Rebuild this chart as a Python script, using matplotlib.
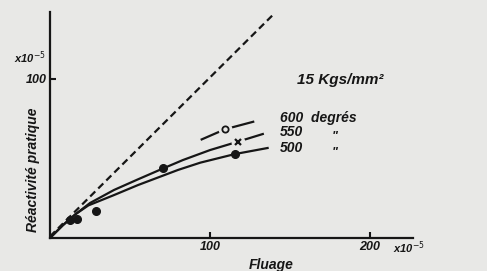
import numpy as np
import matplotlib
matplotlib.use("Agg")
import matplotlib.pyplot as plt

# ================== Données ==================
# courbe 550 degrés (trait continu)
x_550 = [0, 8, 16, 25, 40, 55, 70.8, 83, 100, 117.5, 133]
y_550 = [0, 8, 15, 22, 30.2, 36.9, 43.8, 49, 55.3, 60.6, 65.4]
# courbe 500 degrés (trait continu)
x_500 = [0, 8, 16, 24, 40, 55, 70, 80, 94, 115.6, 136]
y_500 = [0, 8, 15, 20.5, 27, 33.3, 39, 42.8, 47.4, 52.8, 56.6]
# segment 600 degrés
x_600 = [94.8, 109.4, 127]
y_600 = [62, 68.4, 73.1]
# droite en tirets
x_dash = [0, 139]
y_dash = [1, 140]

# points de mesure
pts_x = [12.3, 17, 28.5, 70.8, 115.6]
pts_y = [11.3, 12.1, 17, 43.8, 52.8]
cross_x, cross_y = [117.5], [60.6]
circ_x, circ_y = [109.4], [68.4]

bg = "#e8e8e6"
ink = "#161616"
font = {"family": "Liberation Sans", "weight": "bold", "style": "italic"}

W, H = 487, 271
fig = plt.figure(figsize=(W / 100, H / 100), dpi=100, facecolor=bg)
ax = fig.add_axes([50 / W, 1 - 238 / H, 363 / W, 226 / H])
ax.set_facecolor(bg)
ax.set_xlim(0, 363 / 1.6)
ax.set_ylim(0, 226 / 1.59)

ax.plot(x_dash, y_dash, color=ink, lw=1.6, ls=(0, (3.2, 1.9)))
ax.plot(x_550, y_550, color=ink, lw=1.6, solid_joinstyle="round")
ax.plot(x_500, y_500, color=ink, lw=1.6, solid_joinstyle="round")
ax.plot(x_600, y_600, color=ink, lw=1.6)

# petits blancs autour des marqueurs
ax.plot(circ_x + cross_x, circ_y + cross_y, "o", ms=9, color=bg, zorder=3)
ax.plot(pts_x, pts_y, "o", ms=5.5, color=ink, zorder=4)
ax.plot(cross_x, cross_y, "x", ms=5, mew=1.6, color=ink, zorder=4)
ax.plot(circ_x, circ_y, "o", ms=4.5, mfc=bg, mec=ink, mew=1.3, zorder=4)

for s in ["top", "right"]:
    ax.spines[s].set_visible(False)
for s in ["left", "bottom"]:
    ax.spines[s].set_linewidth(1.6)
    ax.spines[s].set_color(ink)

ax.set_xticks([100, 200])
ax.set_xticklabels(["100", "200"], fontdict=font, fontsize=9, color=ink)
ax.set_yticks([100])
ax.set_yticklabels(["100"], fontdict=font, fontsize=9, color=ink)
ax.tick_params(direction="in", length=4, width=1.5, color=ink, pad=2)

# textes
ax.text(154.4, 99.4, "15 Kgs/mm²", fontdict=font, fontsize=11, color=ink, va="center")
ax.text(143.8, 75.5, "600  degrés", fontdict=font, fontsize=10, color=ink, va="center")
ax.text(143.8, 66.7, "550", fontdict=font, fontsize=10, color=ink, va="center")
ax.text(143.8, 56.6, "500", fontdict=font, fontsize=10, color=ink, va="center")
ax.text(176, 63.5, '"', fontdict=font, fontsize=9, color=ink, va="center")
ax.text(176, 53.5, '"', fontdict=font, fontsize=9, color=ink, va="center")

fig.text(33 / W, 1 - 170 / H, "Réactivité pratique", fontdict=font, fontsize=10,
         color=ink, rotation=90, ha="center", va="center")
fig.text(30 / W, 1 - 58 / H, "x10$^{-5}$", fontdict=font, fontsize=8,
         color=ink, ha="center", va="center")
fig.text(393 / W, 1 - 248 / H, "x10$^{-5}$", fontdict=font, fontsize=8,
         color=ink, ha="left", va="center")
fig.text(271 / W, 1 - 265 / H, "Fluage", fontdict=font, fontsize=10,
         color=ink, ha="center", va="center")

fig.savefig("out.png", dpi=100, facecolor=bg)
